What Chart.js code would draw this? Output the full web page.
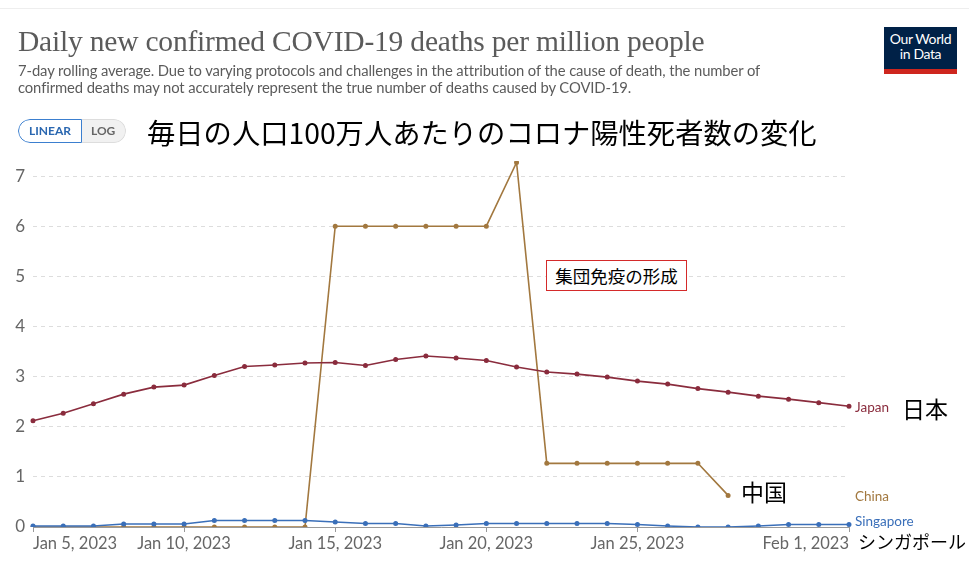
<!DOCTYPE html>
<html lang="ja">
  <head>
    <script src="https://cdn.jsdelivr.net/npm/chart.js"></script>
    <meta charset="UTF-8" />
    <title>Daily new confirmed COVID-19 deaths per million people</title>
    <style>
      body {
        margin: 0;
        width: 969px;
        height: 572px;
        background: #fff;
        font-family: Lato, "Noto Sans", sans-serif;
        position: relative;
        overflow: hidden;
      }
      .topline {
        position: absolute; left: 0; top: 8px; width: 969px; height: 1px; background: #eee;
      }
      h1 {
        position: absolute; left: 18px; top: 25px; margin: 0;
        font-family: "Liberation Serif", serif; font-weight: normal;
        font-size: 29.5px; color: #5b5b5b; letter-spacing: -0.2px;
      }
      .sub {
        position: absolute; left: 18px; top: 62px; margin: 0; width: 790px;
        font-size: 14.8px; line-height: 17px; color: #5b5b5b; letter-spacing: -0.1px;
      }
      .logo {
        position: absolute; left: 884px; top: 27px; width: 73px; height: 38px;
        background: #002147; border-bottom: 5px solid #ce261e;
        color: #fff; font-size: 14px; line-height: 15px; text-align: center;
        padding-top: 4px; box-sizing: content-box; letter-spacing: -0.4px;
      }
      .toggle {
        position: absolute; left: 18px; top: 119px; height: 24px; display: flex;
        border-radius: 12px; overflow: hidden; font-size: 12px; font-weight: bold;
      }
      .toggle span { display: block; line-height: 22px; }
      .lin { border: 1px solid #3b7fcf; color: #2a67b0; background: #fff; padding: 0 10px; border-radius: 12px 0 0 12px; }
      .log { border: 1px solid #ddd; border-left: none; color: #666; background: #f1f1f1; padding: 0 10px 0 9px; border-radius: 0 12px 12px 0; }
      .jtitle {
        position: absolute; left: 147px; top: 111px; margin: 0;
        font-family: "Noto Sans CJK JP", sans-serif; font-size: 28.3px; color: #000;
      }
      .wrap { position: absolute; left: 0; top: 0; width: 969px; height: 572px; }
      .note {
        position: absolute; font-family: "Noto Sans CJK JP", sans-serif; color: #000;
      }
      .box {
        position: absolute; left: 546px; top: 260px; width: 139px; height: 29px;
        border: 1px solid #d42a2a; font-family: "Noto Sans CJK JP", sans-serif;
        font-size: 17.5px; line-height: 29px; text-align: center; background: #fff;
      }
    </style>
  </head>
  <body>
    <div class="topline"></div>
    <div class="wrap"><canvas id="chart"></canvas></div>
    <h1>Daily new confirmed COVID-19 deaths per million people</h1>
    <p class="sub">7-day rolling average. Due to varying protocols and challenges in the attribution of the cause of death, the number of confirmed deaths may not accurately represent the true number of deaths caused by COVID-19.</p>
    <div class="logo">Our World<br />in Data</div>
    <div class="toggle"><span class="lin">LINEAR</span><span class="log">LOG</span></div>
    <p class="jtitle">毎日の人口100万人あたりのコロナ陽性死者数の変化</p>
    <div class="box">集団免疫の形成</div>
    <div class="note" style="left:902px; top:391px; font-size:23px;">日本</div>
    <div class="note" style="left:741px; top:474px; font-size:23px;">中国</div>
    <div class="note" style="left:858px; top:528px; font-size:18px;">シンガポール</div>

    <script>
      // dates Jan 5 .. Feb 1, 2023 (one point per day)
      const days = [
        "Jan 5, 2023", "Jan 6, 2023", "Jan 7, 2023", "Jan 8, 2023", "Jan 9, 2023",
        "Jan 10, 2023", "Jan 11, 2023", "Jan 12, 2023", "Jan 13, 2023", "Jan 14, 2023",
        "Jan 15, 2023", "Jan 16, 2023", "Jan 17, 2023", "Jan 18, 2023", "Jan 19, 2023",
        "Jan 20, 2023", "Jan 21, 2023", "Jan 22, 2023", "Jan 23, 2023", "Jan 24, 2023",
        "Jan 25, 2023", "Jan 26, 2023", "Jan 27, 2023", "Jan 28, 2023", "Jan 29, 2023",
        "Jan 30, 2023", "Jan 31, 2023", "Feb 1, 2023"
      ];
      const shownTicks = ["Jan 5, 2023", "Jan 10, 2023", "Jan 15, 2023", "Jan 20, 2023", "Jan 25, 2023", "Feb 1, 2023"];
      const yTicks = [0, 1, 2, 3, 4, 5, 6, 7];

      const japan = [
        2.12, 2.27, 2.46, 2.65, 2.79, 2.83, 3.02, 3.20, 3.23, 3.27,
        3.28, 3.22, 3.34, 3.41, 3.37, 3.32, 3.19, 3.09, 3.05, 2.99,
        2.91, 2.85, 2.76, 2.69, 2.61, 2.55, 2.48, 2.41
      ];
      const china = [
        0, 0, 0, 0, 0, 0, 0, 0, 0, 0,
        6, 6, 6, 6, 6, 6, 7.27, 1.27, 1.27, 1.27,
        1.27, 1.27, 1.27, 0.63, null, null, null, null
      ];
      const singapore = [
        0.02, 0.02, 0.02, 0.06, 0.06, 0.06, 0.13, 0.13, 0.13, 0.13,
        0.10, 0.07, 0.07, 0.02, 0.04, 0.07, 0.07, 0.07, 0.07, 0.07,
        0.05, 0.02, 0, 0, 0.02, 0.05, 0.05, 0.05
      ];

      const colors = { Japan: "#8a2c3d", China: "#a2783f", Singapore: "#3a6fb9" };

      // x labels and tick marks, first label left aligned, last right aligned
      const xLabels = {
        id: "xLabels",
        afterDraw(chart) {
          const ctx = chart.ctx;
          const xs = chart.scales.x;
          const y0 = chart.chartArea.bottom;
          ctx.save();
          ctx.font = "16.5px Lato";
          ctx.fillStyle = "#666";
          ctx.strokeStyle = "#999";
          ctx.lineWidth = 1;
          ctx.textBaseline = "top";
          shownTicks.forEach((lab, i) => {
            const x = xs.getPixelForValue(days.indexOf(lab));
            ctx.beginPath();
            ctx.moveTo(Math.round(x) + 0.5, y0);
            ctx.lineTo(Math.round(x) + 0.5, y0 + 5);
            ctx.stroke();
            ctx.textAlign = i === 0 ? "left" : i === shownTicks.length - 1 ? "right" : "center";
            ctx.fillText(lab, x, y0 + 8);
          });
          // series names at line ends
          ctx.font = "13.5px Lato";
          ctx.textAlign = "left";
          ctx.textBaseline = "middle";
          const xr = chart.chartArea.right + 6;
          const ys = chart.scales.y;
          ctx.fillStyle = colors.Japan;
          ctx.fillText("Japan", xr, ys.getPixelForValue(japan[japan.length - 1]) + 1);
          ctx.fillStyle = colors.China;
          ctx.fillText("China", xr, ys.getPixelForValue(0.6));
          ctx.fillStyle = colors.Singapore;
          ctx.fillText("Singapore", xr, ys.getPixelForValue(0.1));
          ctx.restore();
        }
      };

      function line(label, data) {
        return {
          label: label,
          data: data,
          borderColor: colors[label],
          backgroundColor: colors[label],
          borderWidth: 1.6,
          pointRadius: 1.7,
          pointHoverRadius: 1.7,
          tension: 0,
          spanGaps: false
        };
      }

      new Chart(document.getElementById("chart"), {
        type: "line",
        data: {
          labels: days,
          datasets: [line("Singapore", singapore), line("Japan", japan), line("China", china)]
        },
        options: {
          responsive: true,
          maintainAspectRatio: false,
          animation: false,
          layout: { padding: { top: 161, right: 120, left: 0, bottom: 0 } },
          plugins: { legend: { display: false }, tooltip: { enabled: false } },
          scales: {
            x: {
              type: "category",
              offset: false,
              grid: { display: false },
              border: { display: true, color: "#999", width: 1 },
              ticks: { display: false },
              afterFit(scale) { scale.height = 45; }
            },
            y: {
              min: 0,
              max: 7.3,
              afterBuildTicks(scale) { scale.ticks = yTicks.map(v => ({ value: v })); },
              grid: { color: "#ddd", drawTicks: false },
              border: { display: false, dash: [4, 4] },
              ticks: { color: "#666", font: { family: "Lato", size: 17 }, padding: 8 },
              afterFit(scale) { scale.width = 33; }
            }
          }
        },
        plugins: [xLabels]
      });
    </script>
  </body>
</html>
